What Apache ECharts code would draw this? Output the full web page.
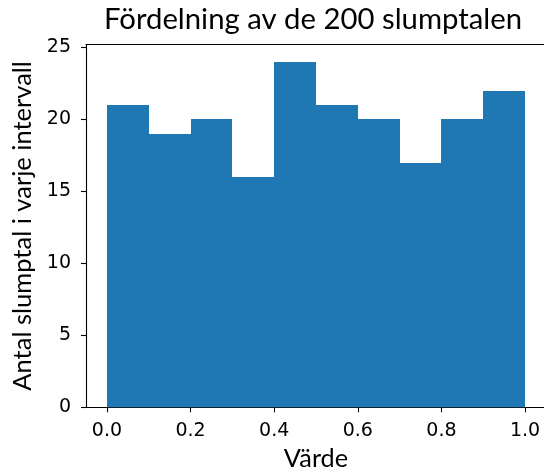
<!DOCTYPE html>
<html><head><meta charset="utf-8">
<script src="https://cdn.jsdelivr.net/npm/echarts@6/dist/echarts.min.js"></script>
<style>html,body{margin:0;padding:0;background:#fff}#c{width:544px;height:472px}</style>
</head><body><div id="c"></div>
<script>
const binEdges = [0.0, 0.1, 0.2, 0.3, 0.4, 0.5, 0.6, 0.7, 0.8, 0.9, 1.0];
const counts = [21, 19, 20, 16, 24, 21, 20, 17, 20, 22];
const xTicks = [0.0, 0.2, 0.4, 0.6, 0.8, 1.0];
const yTicks = [0, 5, 10, 15, 20, 25];
const titleText = 'Fördelning av de 200 slumptalen';
const xName = 'Värde';
const yName = 'Antal slumptal i varje intervall';

const histData = counts.map((c, i) => [binEdges[i], binEdges[i + 1], c]);
const chart = echarts.init(document.getElementById('c'), null, {renderer: 'canvas'});
const lblFont = 'DejaVu Sans';
const nameFont = 'Lato';
chart.setOption({
  animation: false,
  title: {text: titleText, left: 308, top: 0, textAlign: 'center',
    textStyle: {fontFamily: nameFont, fontSize: 29.3, fontWeight: 'normal', color: '#000'}},
  grid: {left: 86, right: -2, top: 44.5, bottom: 64.7, outerBoundsMode: 'none', containLabel: false},
  xAxis: [{
    type: 'value', min: -0.05, max: 1.05, position: 'bottom',
    name: xName, nameLocation: 'middle', nameGap: 39,
    nameTextStyle: {fontFamily: nameFont, fontSize: 25.3, color: '#000'},
    axisLine: {show: true, onZero: false, lineStyle: {color: '#000', width: 1.1}},
    axisTick: {show: true, length: 5, lineStyle: {color: '#000', width: 1.1}, customValues: xTicks},
    axisLabel: {fontFamily: lblFont, fontSize: 19, color: '#000', margin: 14, customValues: xTicks,
      formatter: v => v.toFixed(1)},
    splitLine: {show: false}
  }, {
    type: 'value', min: -0.05, max: 1.05, position: 'top',
    axisLine: {show: true, onZero: false, lineStyle: {color: '#000', width: 1.1}},
    axisTick: {show: false}, axisLabel: {show: false}, splitLine: {show: false}
  }],
  yAxis: {
    type: 'value', min: 0, max: 25.2,
    name: yName, nameLocation: 'middle', nameGap: 45,
    nameTextStyle: {fontFamily: nameFont, fontSize: 25.5, color: '#000'},
    axisLine: {show: true, onZero: false, lineStyle: {color: '#000', width: 1.1}},
    axisTick: {show: true, length: 5, lineStyle: {color: '#000', width: 1.1}, customValues: yTicks},
    axisLabel: {fontFamily: lblFont, fontSize: 19, color: '#000', margin: 15, customValues: yTicks},
    splitLine: {show: false}
  },
  series: [{
    type: 'custom',
    xAxisIndex: 0,
    data: histData,
    encode: {x: [0, 1], y: 2},
    renderItem: (params, api) => {
      const p0 = api.coord([api.value(0), api.value(2)]);
      const p1 = api.coord([api.value(1), 0]);
      const xl = Math.round(p0[0]), xr = Math.round(p1[0]);
      const yt = Math.round(p0[1]), yb = p1[1];
      return {type: 'rect', shape: {x: xl, y: yt, width: xr - xl, height: yb - yt},
        style: {fill: '#1f77b4'}};
    }
  }]
});
</script></body></html>
